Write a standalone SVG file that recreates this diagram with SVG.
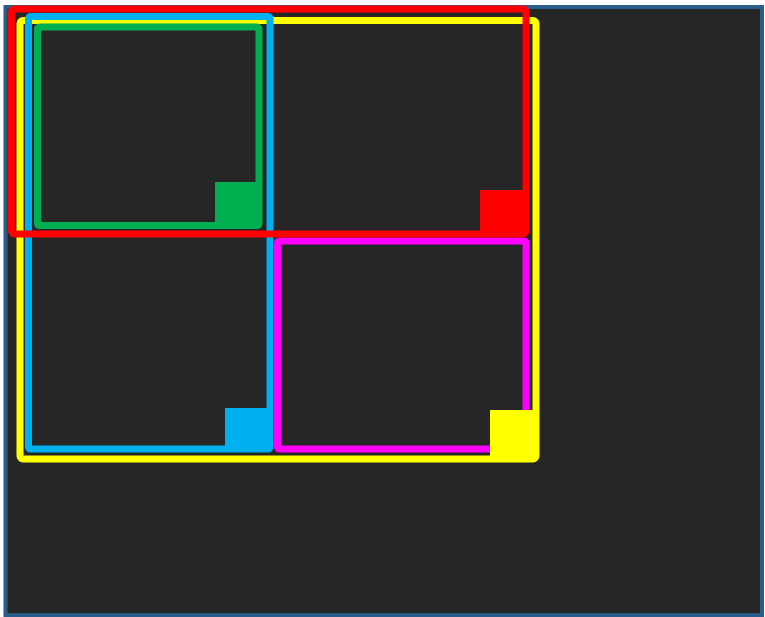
<svg xmlns="http://www.w3.org/2000/svg" width="765" height="617" viewBox="0 0 765 617">
<style>
.frame{fill:none;stroke-width:7;stroke-linejoin:round}
.sq{stroke:none}
</style>
<rect x="0" y="0" width="765" height="617" fill="#ffffff"/>
<rect id="canvas" x="5.5" y="7" width="756.5" height="608" fill="#262626" stroke="#2b5d8a" stroke-width="4"/>
<g id="yellow-box">
<rect class="frame" x="20" y="20.5" width="516" height="438.5" rx="3" stroke="#ffff00"/>
</g>
<g id="blue-box">
<rect class="frame" x="28.5" y="16.5" width="241.5" height="432.5" rx="2" stroke="#00b0f0"/>
<rect class="sq" x="225" y="408" width="45" height="41" fill="#00b0f0"/>
</g>
<g id="green-box">
<rect class="frame" x="37.5" y="27" width="221.5" height="198.5" rx="2" stroke="#00b050"/>
<rect class="sq" x="215" y="182" width="44" height="43.5" fill="#00b050"/>
</g>
<g id="magenta-box">
<rect class="frame" x="277.5" y="241" width="248.5" height="208" rx="2" stroke="#ff00ff"/>
</g>
<g id="yellow-marker">
<rect class="sq" x="490" y="410" width="46" height="49" fill="#ffff00"/>
</g>
<g id="red-box">
<rect class="frame" x="11.5" y="9" width="514.5" height="225" rx="3" stroke="#ff0000"/>
<rect class="sq" x="480" y="190" width="46" height="44" fill="#ff0000"/>
</g>
<g id="connectors"></g>
</svg>
